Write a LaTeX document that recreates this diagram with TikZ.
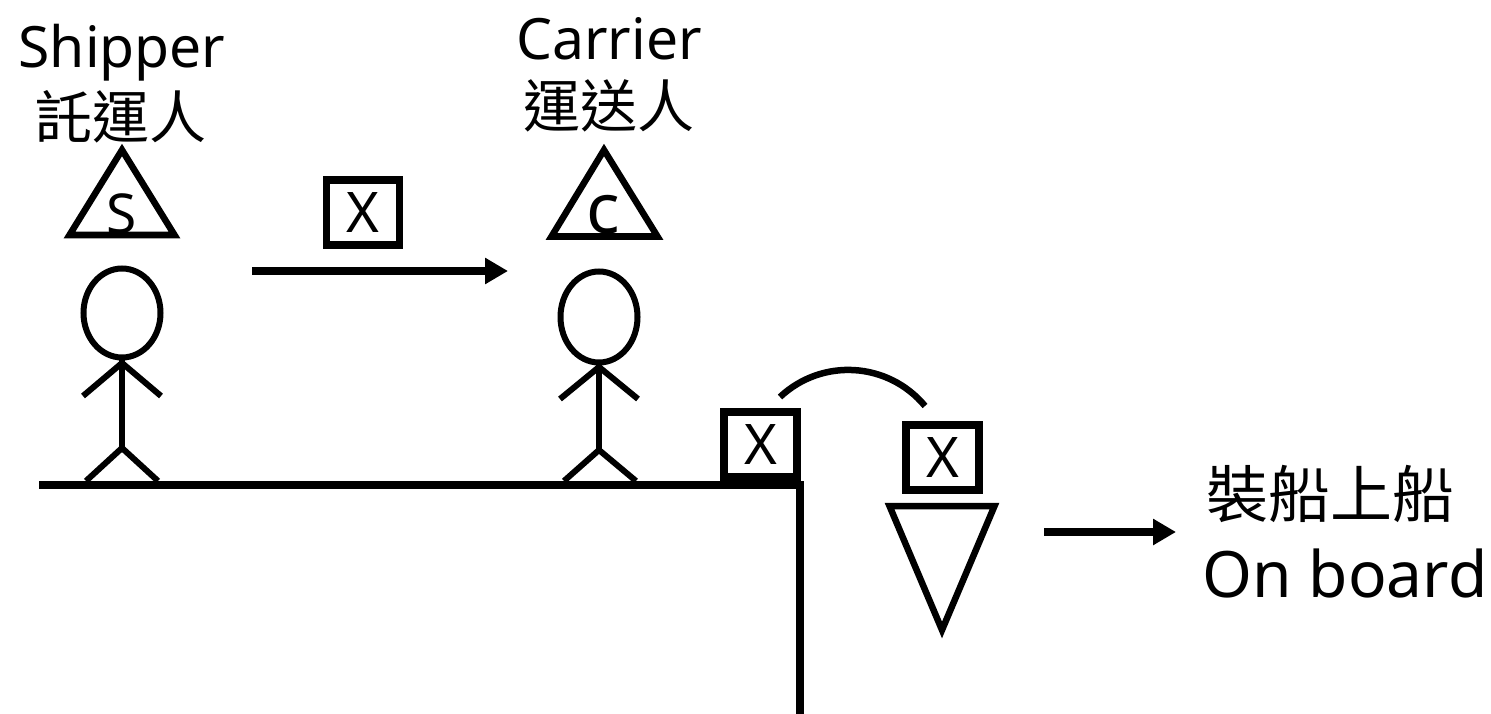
\documentclass[tikz,border=0pt]{standalone}
\usepackage{fontspec}
\setmainfont{Noto Sans}
\newfontfamily\cjk{Noto Sans CJK TC}
\usetikzlibrary{arrows.meta}
\tikzset{
  xbox/.style={draw, line width=7.5pt, minimum width=73pt, minimum height=65pt, inner sep=0pt, font=\fontsize{56}{60}\selectfont},
  stick/.style={line width=6pt},
  tri/.style={line width=6.5pt, line join=miter},
  gnd/.style={line width=8pt, line join=miter},
  arr/.style={line width=8pt, -{Triangle[length=23pt,width=25pt]}},
  hop/.style={line width=6.5pt},
  lbl/.style={inner sep=0pt, anchor=base, font=\fontsize{57}{60}\selectfont},
  cjklbl/.style={inner sep=0pt, anchor=base, font=\cjk\fontsize{57}{60}\selectfont},
  letter/.style={inner sep=0pt}
}
\begin{document}
\begin{tikzpicture}[x=1pt,y=-1pt]
\useasboundingbox (0,0) rectangle (1491,714);
% labels
\node[lbl] (shipper) at (122,68) {Shipper};
\node[cjklbl] (shipperzh) at (121,139) {託運人};
\node[lbl] (carrier) at (609,60) {Carrier};
\node[cjklbl] (carrierzh) at (609,128) {運送人};
% role triangles
\draw[tri] (122,150) -- (174.5,235) -- (69.5,235) -- cycle;
\node[letter, font=\fontsize{55}{60}\selectfont] (sletter) at (122,214) {S};
\draw[tri] (604,150) -- (657.5,236.5) -- (551.5,236.5) -- cycle;
\node[letter, font=\fontsize{70}{70}\selectfont] (cletter) at (603,215) {c};
% goods box and arrow between the two
\node[xbox] (box0) at (363,212.5) {X};
\coordinate (a1s) at (252,271);
\coordinate (a1e) at (508,271);
\draw[arr] (a1s) -- (a1e);
% shipper stick figure
\draw[stick] (122,313) ellipse[x radius=38.5, y radius=44.5];
\draw[stick] (122,358) -- (122,448);
\draw[stick] (83,396) -- (122,363) -- (161,396);
\draw[stick] (86,481) -- (122,448) -- (158,481);
% carrier stick figure
\draw[stick] (599,317) ellipse[x radius=38.5, y radius=45.5];
\draw[stick] (599,363) -- (599,450);
\draw[stick] (560,399) -- (599,367) -- (638,399);
\draw[stick] (564,481) -- (599,450) -- (636,481);
% ground / quay
\coordinate (g0) at (39,485);
\coordinate (g1) at (799.5,485);
\coordinate (g2) at (799.5,714);
\draw[gnd] (g0) -- (g1) -- (g2);
% boxes at the ship's rail
\node[xbox] (box1) at (760.5,444.5) {X};
\node[xbox] (box2) at (942.5,457.5) {X};
\coordinate (hopA) at (780,397);
\coordinate (hopB) at (925,406);
\draw[hop] (hopA) .. controls (822,357.6) and (888.2,361.7) .. (hopB);
% ship triangle
\draw[tri] (889.5,506) -- (994.5,506) -- (942,630) -- cycle;
% on board arrow and label
\coordinate (a2s) at (1044,532);
\coordinate (a2e) at (1176,532);
\draw[arr] (a2s) -- (a2e);
\node[cjklbl, font=\cjk\fontsize{62}{64}\selectfont] (onboardzh) at (1330,517) {裝船上船};
\node[lbl, font=\fontsize{64}{70}\selectfont] (onboard) at (1345,597) {On board};
\end{tikzpicture}
\end{document}
